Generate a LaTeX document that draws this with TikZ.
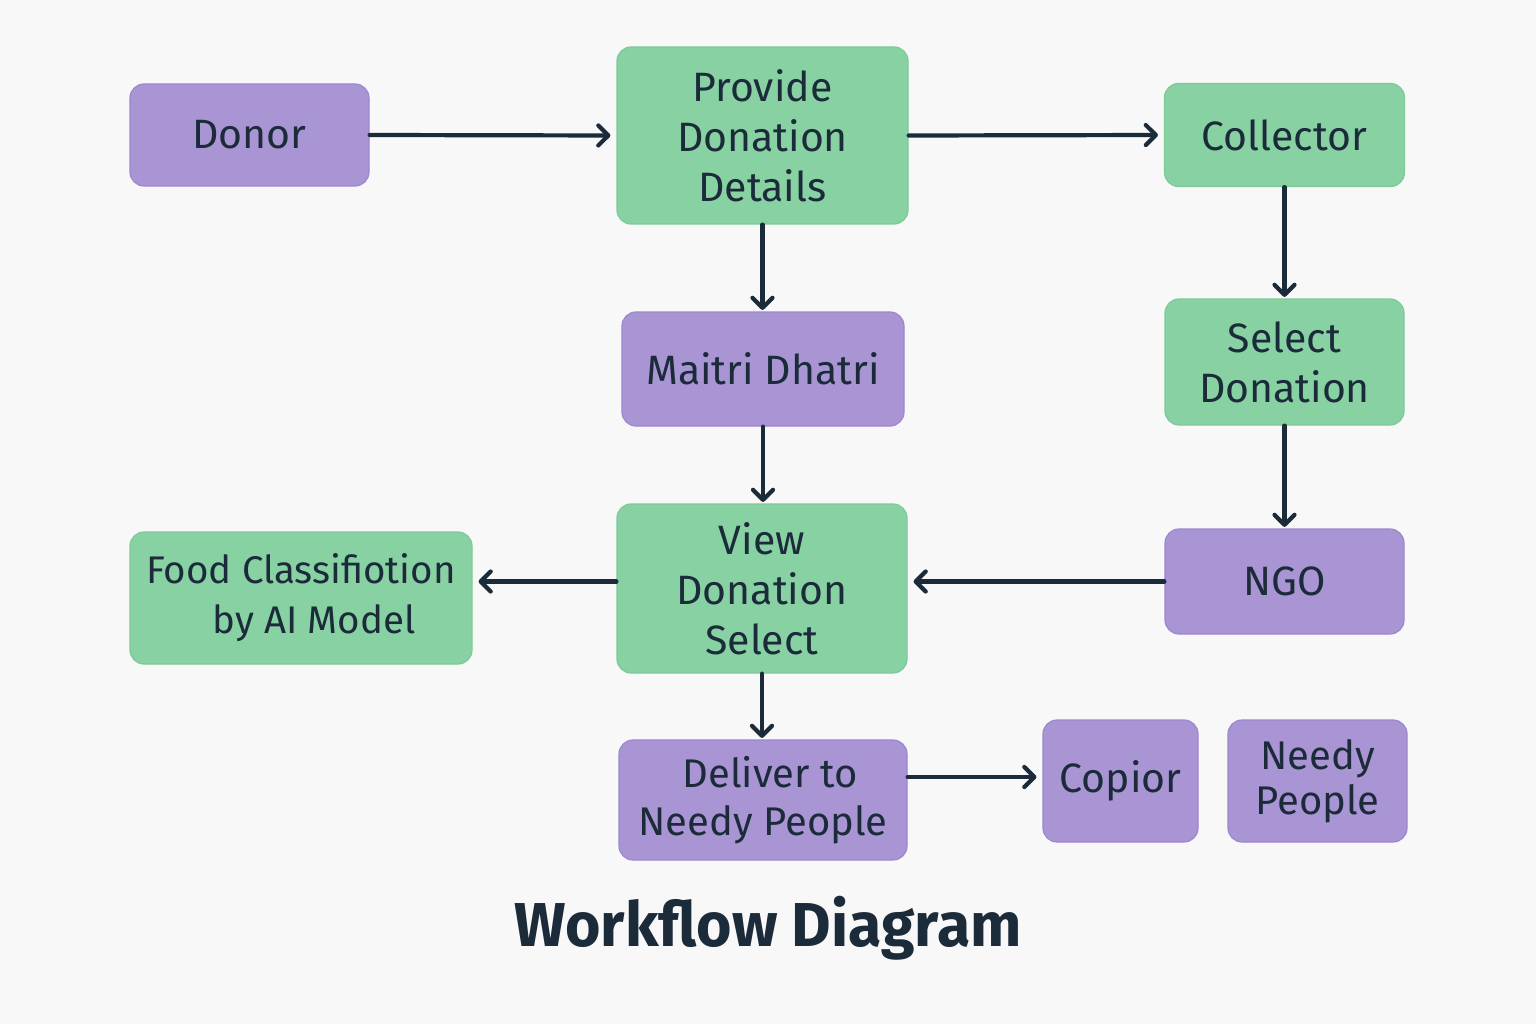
\documentclass[tikz,border=0pt]{standalone}
\usepackage{fontspec}
\setmainfont{Fira Sans}
\usetikzlibrary{arrows.meta}
\definecolor{bg}{HTML}{F8F8F8}
\definecolor{gfill}{HTML}{88D1A3}
\definecolor{gline}{HTML}{7DCA99}
\definecolor{pfill}{HTML}{A994D4}
\definecolor{pline}{HTML}{9D87CE}
\definecolor{ink}{HTML}{1B2B3A}
\tikzset{
  box/.style={rectangle, rounded corners=14pt, line width=1.2pt, inner sep=0pt,
    align=center, text=ink, font=\fontsize{41}{50}\selectfont},
  gbox/.style={box, fill=gfill, draw=gline},
  pbox/.style={box, fill=pfill, draw=pline},
  arr/.style={draw=ink, line width=4.2pt, line cap=round,
    -{Straight Barb[length=10pt,width=20pt,line width=4.2pt,round]}, shorten >=6pt},
  varr/.style={arr, shorten >=1.5pt}
}
\begin{document}
\begin{tikzpicture}[x=1pt,y=-1pt]
\fill[bg] (0,0) rectangle (1536,1024);
\useasboundingbox (0,0) rectangle (1536,1024);

\node[pbox, minimum width=239pt, minimum height=102pt] (donor) at (249.5,135) {Donor};
\node[gbox, minimum width=291pt, minimum height=177pt] (provide) at (762.5,135.5) {Provide\\Donation\\Details};
\node[gbox, minimum width=240pt, minimum height=103pt] (collector) at (1284.5,135) {Collector};
\node[pbox, minimum width=282pt, minimum height=114pt] (maitri) at (763,369) {Maitri Dhatri};
\node[gbox, minimum width=239pt, minimum height=126pt] (select) at (1284.5,362) {Select\\Donation};
\node[gbox, minimum width=290pt, minimum height=169pt] (view) at (762,588.5) {View\\Donation\\Select};
\node[pbox, minimum width=239pt, minimum height=105pt] (ngo) at (1284.5,581.5) {NGO};
\node[gbox, minimum width=342pt, minimum height=132pt, font=\fontsize{38.5}{50}\selectfont] (food) at (301,598) {Food Classifiotion\\\hspace*{26pt}by AI Model};
\node[pbox, minimum width=288pt, minimum height=120pt, font=\fontsize{40}{48}\selectfont] (deliver) at (763,800) {\hspace*{14pt}Deliver to\\Needy People};
\node[pbox, minimum width=155pt, minimum height=122pt] (copior) at (1120.5,781) {\raisebox{5pt}{Copior}};
\node[pbox, minimum width=179pt, minimum height=122pt, font=\fontsize{40}{45}\selectfont] (needy) at (1317.5,781) {Needy\\People};

\node[text=ink, font=\fontsize{62}{70}\selectfont\bfseries, inner sep=0pt] (title) at (768,928) {\scalebox{0.98}[1]{Workflow Diagram}};

\draw[arr] (donor.east) -- (provide.west);
\draw[arr] (provide.east) -- (collector.west);
\draw[varr] (provide.south) -- (provide.south |- maitri.north);
\draw[varr] (collector.south) -- (collector.south |- select.north);
\draw[varr] (maitri.south) -- (maitri.south |- view.north);
\draw[varr] (select.south) -- (select.south |- ngo.north);
\draw[arr] (ngo.west) -- (ngo.west -| view.east);
\draw[arr] (view.west |- ngo.west) -- (ngo.west -| food.east);
\draw[varr] (view.south) -- (view.south |- deliver.north);
\draw[arr] ([yshift=4pt]copior.west -| deliver.east) -- ([yshift=4pt]copior.west);
\end{tikzpicture}
\end{document}
